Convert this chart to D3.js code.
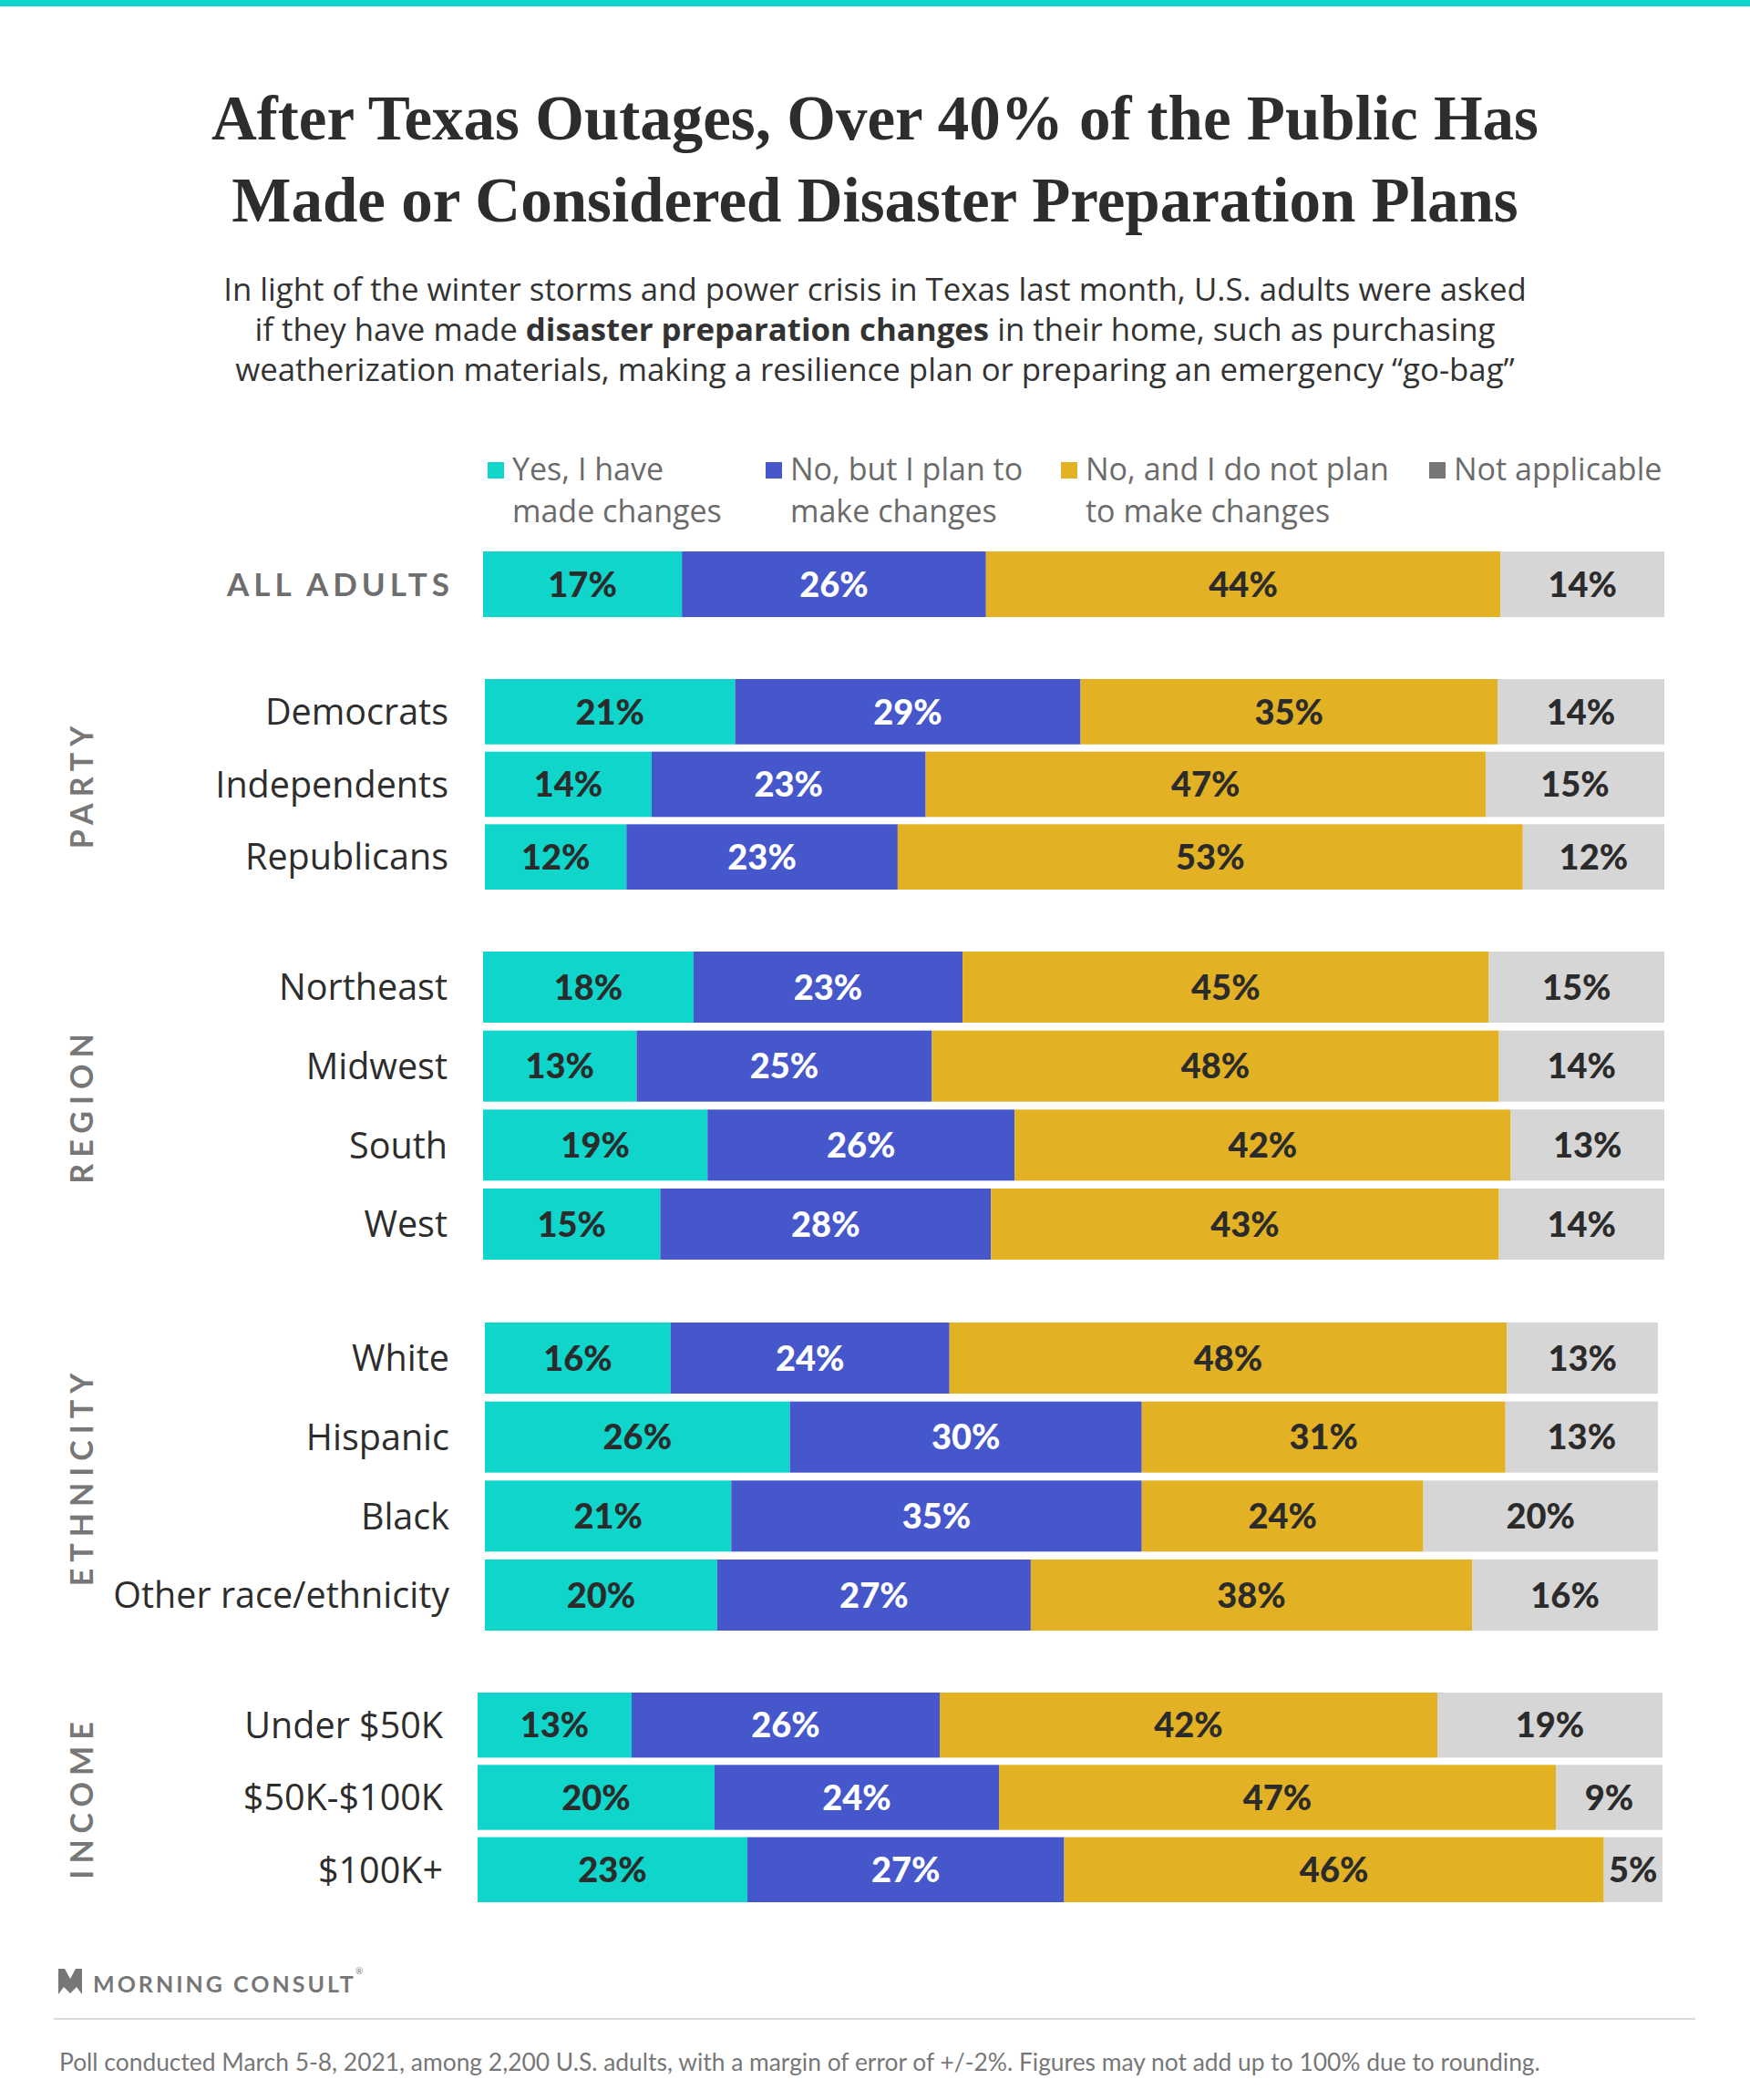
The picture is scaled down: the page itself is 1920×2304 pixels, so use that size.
<!DOCTYPE html>
<html>
<head>
<meta charset="utf-8">
<script src="https://cdn.jsdelivr.net/npm/d3@7"></script>
<style>
  body { margin: 0; background: #fff; }
  svg text { font-family: Lato, 'Noto Sans', sans-serif; }
</style>
</head>
<body>
<div id="chart"></div>
<script>
// answers, in stack order
const series = ['Yes, I have made changes', 'No, but I plan to make changes', 'No, and I do not plan to make changes', 'Not applicable']
const legendLines = [['Yes, I have', 'made changes'], ['No, but I plan to', 'make changes'], ['No, and I do not plan', 'to make changes'], ['Not applicable']]

const groups = ['ALL ADULTS', 'PARTY', 'REGION', 'ETHNICITY', 'INCOME']
const categories = ['ALL ADULTS', 'Democrats', 'Independents', 'Republicans', 'Northeast', 'Midwest', 'South', 'West',
  'White', 'Hispanic', 'Black', 'Other race/ethnicity', 'Under $50K', '$50K-$100K', '$100K+']
const rowGroup = ['ALL ADULTS', 'PARTY', 'PARTY', 'PARTY', 'REGION', 'REGION', 'REGION', 'REGION',
  'ETHNICITY', 'ETHNICITY', 'ETHNICITY', 'ETHNICITY', 'INCOME', 'INCOME', 'INCOME']

const yesMade       = [17, 21, 14, 12, 18, 13, 19, 15, 16, 26, 21, 20, 13, 20, 23]
const planTo        = [26, 29, 23, 23, 23, 25, 26, 28, 24, 30, 35, 27, 26, 24, 27]
const noPlan        = [44, 35, 47, 53, 45, 48, 42, 43, 48, 31, 24, 38, 42, 47, 46]
const notApplicable = [14, 14, 15, 12, 15, 14, 13, 14, 13, 13, 20, 16, 19, 9, 5]

// layout
const W = 1920, H = 2304
const sans = "'Open Sans', Lato, sans-serif"
const barColors = ['#0fd5ca', '#4657cc', '#e2b124', '#d6d6d6']
const swatchColors = ['#0fd5ca', '#4657cc', '#e2b124', '#777777']
const labelColors = ['#2b2b2b', '#ffffff', '#2b2b2b', '#2b2b2b']
const groupBox = {
  'ALL ADULTS': { top: 605, bottom: 677, x0: 530, x1: 1826, labelX: 498 },
  'PARTY':      { top: 745, bottom: 976, x0: 532, x1: 1826, labelX: 492 },
  'REGION':     { top: 1044, bottom: 1382, x0: 530, x1: 1826, labelX: 491 },
  'ETHNICITY':  { top: 1451, bottom: 1789, x0: 532, x1: 1819, labelX: 493 },
  'INCOME':     { top: 1857, bottom: 2087, x0: 524, x1: 1824, labelX: 486 }
}

const rows = categories.map((c, i) => ({
  cat: c,
  group: rowGroup[i],
  values: [yesMade[i], planTo[i], noPlan[i], notApplicable[i]]
}))

const svg = d3.select('#chart')
  .append('svg')
  .attr('width', W)
  .attr('height', H)

svg.append('rect').attr('width', W).attr('height', 7).attr('fill', '#0fd5ca')

// title + subtitle
const title = svg.append('text')
  .attr('text-anchor', 'middle')
  .style('font-family', "'Liberation Serif', 'DejaVu Serif', serif")
  .style('font-size', '69px')
  .style('font-weight', 'bold')
  .style('fill', '#2d2d2d')
title.append('tspan').attr('x', 960).attr('y', 153).text('After Texas Outages, Over 40% of the Public Has')
title.append('tspan').attr('x', 960).attr('y', 243).text('Made or Considered Disaster Preparation Plans')

const sub = svg.append('text')
  .attr('text-anchor', 'middle')
  .style('font-family', sans)
  .style('font-size', '34.8px')
  .style('fill', '#333')
sub.append('tspan').attr('x', 960).attr('y', 330)
  .text('In light of the winter storms and power crisis in Texas last month, U.S. adults were asked')
const l2 = sub.append('tspan').attr('x', 960).attr('y', 374)
l2.append('tspan').text('if they have made ')
l2.append('tspan').style('font-weight', 'bold').text('disaster preparation changes')
l2.append('tspan').text(' in their home, such as purchasing')
sub.append('tspan').attr('x', 960).attr('y', 418)
  .text('weatherization materials, making a resilience plan or preparing an emergency \u201cgo-bag\u201d')

// legend
const legendSwatchX = [535, 840, 1164, 1568]
const legend = svg.append('g')
series.forEach((s, i) => {
  legend.append('rect')
    .attr('x', legendSwatchX[i]).attr('y', 507)
    .attr('width', 18).attr('height', 18)
    .attr('fill', swatchColors[i])
  const t = legend.append('text')
    .style('font-family', sans)
    .style('font-size', '34px')
    .style('fill', '#6b6b6b')
  legendLines[i].forEach((line, j) => {
    t.append('tspan').attr('x', legendSwatchX[i] + 27).attr('y', 527 + j * 46).text(line)
  })
})

// bars
const stack = d3.stack()
  .keys([0, 1, 2, 3])
  .value((d, k) => d.values[k])

groups.forEach(g => {
  const box = groupBox[g]
  const gRows = rows.filter(r => r.group === g)
  const y = d3.scaleBand()
    .domain(gRows.map(r => r.cat))
    .range([box.top, box.bottom])
    .paddingInner(gRows.length > 1 ? 0.1 : 0)
  const stacked = stack(gRows)

  const rowG = svg.append('g')
  gRows.forEach((r, ri) => {
    const x = d3.scaleLinear().domain([0, d3.sum(r.values)]).range([box.x0, box.x1])
    const yc = y(r.cat) + y.bandwidth() / 2
    stacked.forEach((layer, k) => {
      const seg = layer[ri]
      rowG.append('rect')
        .attr('x', x(seg[0]))
        .attr('y', y(r.cat))
        .attr('width', x(seg[1]) - x(seg[0]))
        .attr('height', y.bandwidth())
        .attr('fill', barColors[k])
      rowG.append('text')
        .attr('x', (x(seg[0]) + x(seg[1])) / 2)
        .attr('y', yc)
        .attr('dy', '0.36em')
        .attr('text-anchor', 'middle')
        .style('font-size', '38px')
        .style('font-weight', 900)
        .style('fill', labelColors[k])
        .text(`${r.values[k]}%`)
    })

    const lab = rowG.append('text')
      .attr('x', box.labelX)
      .attr('y', yc)
      .attr('dy', '0.36em')
      .attr('text-anchor', 'end')
      .text(r.cat)
    if (g === 'ALL ADULTS') {
      lab.style('font-size', '35px')
        .style('font-weight', 'bold')
        .style('letter-spacing', '5px')
        .style('fill', '#6e6e6e')
    } else {
      lab.style('font-family', sans).style('font-size', '39.5px').style('fill', '#2d2d2d')
    }
  })

  if (g !== 'ALL ADULTS') {
    svg.append('text')
      .attr('transform', `translate(90, ${(box.top + box.bottom) / 2}) rotate(-90)`)
      .attr('dy', '0.36em')
      .attr('text-anchor', 'middle')
      .style('font-size', '34px')
      .style('font-weight', 'bold')
      .style('letter-spacing', '7px')
      .style('fill', '#777')
      .text(g)
  }
})

// footer
svg.append('path')
  .attr('d', 'M64,2160 L71,2160 L77,2171 L83,2160 L90,2160 L90,2188 L84,2180 L77,2187 L70,2180 L64,2188 Z')
  .attr('fill', '#777')
svg.append('text')
  .attr('x', 102).attr('y', 2186)
  .style('font-size', '25px')
  .style('font-weight', 'bold')
  .style('letter-spacing', '3px')
  .style('fill', '#777')
  .text('MORNING CONSULT')
svg.append('text')
  .attr('x', 390).attr('y', 2166)
  .style('font-size', '10px')
  .style('fill', '#777')
  .text('\u00ae')

svg.append('line')
  .attr('x1', 59).attr('x2', 1860)
  .attr('y1', 2215).attr('y2', 2215)
  .attr('stroke', '#dadada')
  .attr('stroke-width', 2)

svg.append('text')
  .attr('x', 65).attr('y', 2272)
  .style('font-size', '26.4px')
  .style('fill', '#777')
  .text('Poll conducted March 5-8, 2021, among 2,200 U.S. adults, with a margin of error of +/-2%. Figures may not add up to 100% due to rounding.')
</script>
</body>
</html>
